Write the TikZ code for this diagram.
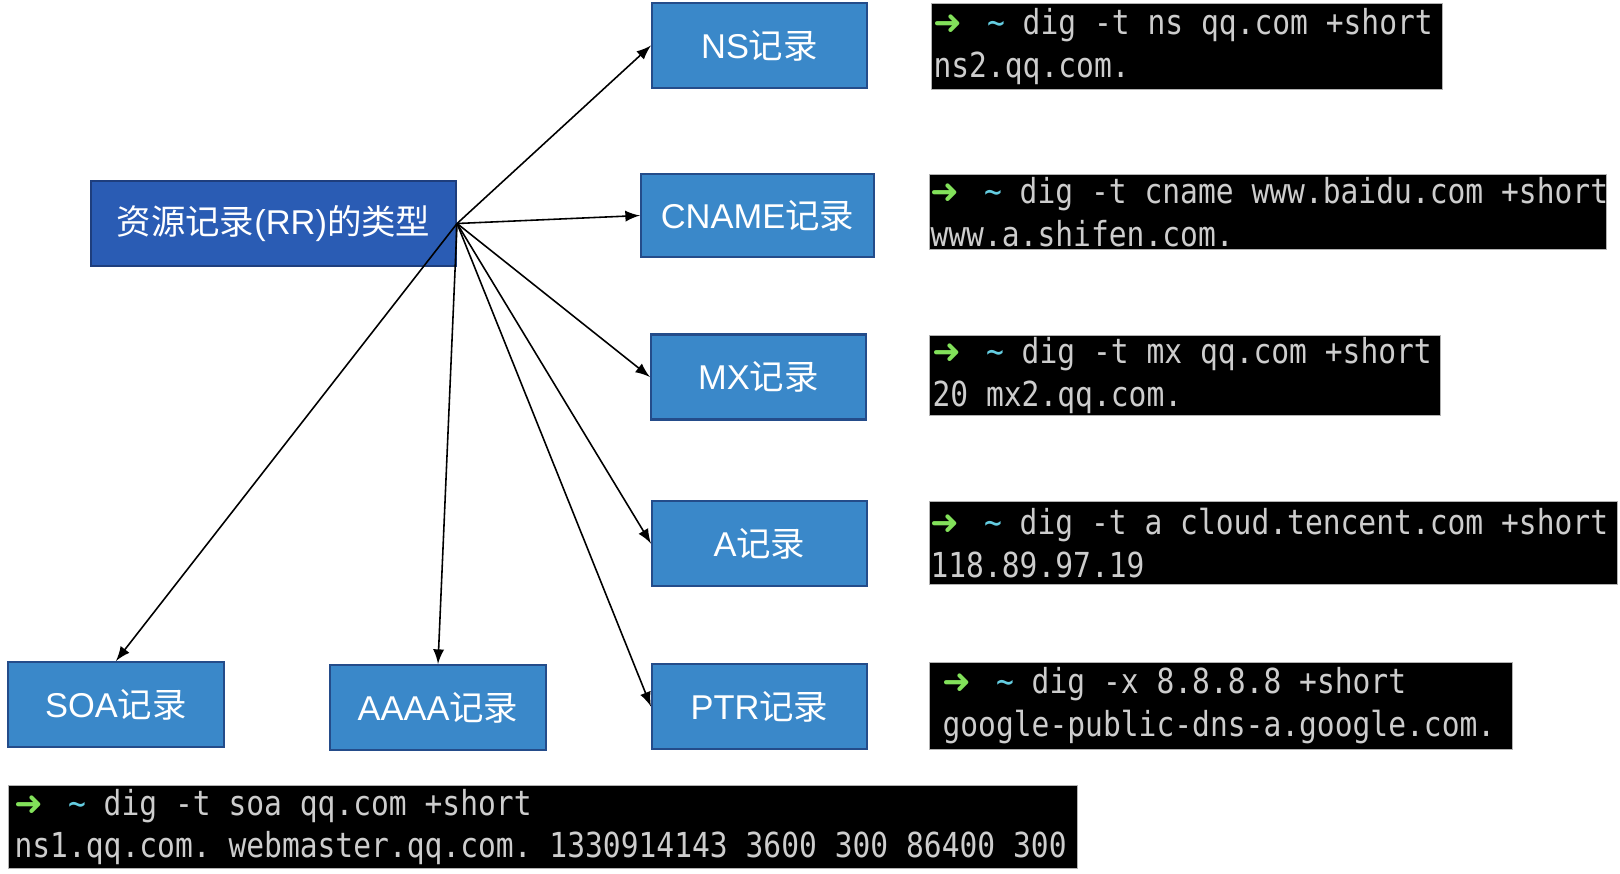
\documentclass[tikz,border=0pt]{standalone}
\usepackage{fontspec}
\setmainfont{Liberation Sans}
\newfontfamily\cjk{Noto Sans CJK SC}
\newfontfamily\term[FakeStretch=0.86]{DejaVu Sans Mono}
\newfontfamily\symfont{DejaVu Sans}
\usepackage{tikz}
\usepackage{xcolor}

\definecolor{rrblue}{RGB}{42,92,180}
\definecolor{rrborder}{RGB}{30,62,125}
\definecolor{recblue}{RGB}{58,136,201}
\definecolor{recborder}{RGB}{36,76,138}
\definecolor{termtext}{RGB}{205,205,205}
\definecolor{promptgreen}{RGB}{130,225,90}
\definecolor{tildecyan}{RGB}{100,205,225}

% fixed spaces, one character wide
\newcommand\fixspace{\setbox0\hbox{x}\spaceskip=\wd0\relax\xspaceskip=\wd0\relax}
% prompt line of the terminal: arrow, tilde, command
\newcommand\prompt[1]{\mbox{\setbox0\hbox{x}\hbox to \wd0{\color{promptgreen}\symfont ➜\hss}\ \ {\color{tildecyan}\char`\~}\ #1}}

\begin{document}
\begin{tikzpicture}[x=0.1mm, y=-0.1mm,
    rr/.style={draw=rrborder, fill=rrblue, line width=0.6pt, text=white,
        minimum width=36.5mm, minimum height=8.5mm,
        font=\fontsize{9.8pt}{11pt}\selectfont},
    rec/.style={draw=recborder, fill=recblue, line width=0.6pt, text=white,
        minimum width=21.5mm, minimum height=8.5mm,
        font=\fontsize{9.8pt}{11pt}\selectfont},
    term/.style={fill=black, draw=gray!60, line width=0.3pt, text=termtext,
        anchor=north west, align=left, inner ysep=0pt,
        font=\term\fontsize{9.8pt}{12.2pt}\selectfont,
        execute at begin node=\fixspace},
    conn/.style={-latex, line width=0.45pt}]
    \useasboundingbox (0,0) rectangle (1620,873);

    % Record types
    \node[rr] (rr) at (273.5,223.5) {{\cjk 资源记录}(RR){\cjk 的类型}};
    \node[rec] (ns) at (759.5,45.5) {NS{\cjk 记录}};
    \node[rec, minimum width=23.3mm, minimum height=8.3mm] (cname) at (757.5,215.5) {CNAME{\cjk 记录}};
    \node[rec] (mx) at (758.5,377) {MX{\cjk 记录}};
    \node[rec] (a) at (759.5,543.5) {A{\cjk 记录}};
    \node[rec] (ptr) at (759.5,706.5) {PTR{\cjk 记录}};
    \node[rec, minimum width=21.6mm] (soa) at (116,704.5) {SOA{\cjk 记录}};
    \node[rec, minimum width=21.6mm] (aaaa) at (438,707.5) {AAAA{\cjk 记录}};

    % Arrows
    \draw[conn] (rr.east) -- (ns.west);
    \draw[conn] (rr.east) -- (cname.west);
    \draw[conn] (rr.east) -- (mx.west);
    \draw[conn] (rr.east) -- (a.west);
    \draw[conn] (rr.east) -- (ptr.west);
    \draw[conn] (rr.east) -- (soa.north);
    \draw[conn] (rr.east) -- (aaaa.north);

    % Terminal output
    \node[term, inner xsep=0.2mm, text width=50.7mm, minimum height=8.6mm] (tns) at (931,3)
        {\prompt{dig -t ns qq.com +short}\\ns2.qq.com.};
    \node[term, inner xsep=0.1mm, text width=67.5mm, minimum height=7.5mm] (tcname) at (929,174)
        {\prompt{dig -t cname www.baidu.com +short}\\www.a.shifen.com.};
    \node[term, inner xsep=0.3mm, text width=50.5mm, minimum height=8mm] (tmx) at (929,335)
        {\prompt{dig -t mx qq.com +short}\\20 mx2.qq.com.};
    \node[term, inner xsep=0.1mm, text width=68.6mm, minimum height=8.3mm] (ta) at (929,501)
        {\prompt{dig -t a cloud.tencent.com +short}\\118.89.97.19};
    \node[term, inner xsep=1.3mm, text width=55.7mm, minimum height=8.7mm] (tptr) at (929,662)
        {\prompt{dig -x 8.8.8.8 +short}\\google-public-dns-a.google.com.};
    \node[term, inner xsep=0.6mm, text width=105.7mm, minimum height=8.3mm] (tsoa) at (8,785)
        {\prompt{dig -t soa qq.com +short}\\ns1.qq.com. webmaster.qq.com. 1330914143 3600 300 86400 300};
\end{tikzpicture}
\end{document}
